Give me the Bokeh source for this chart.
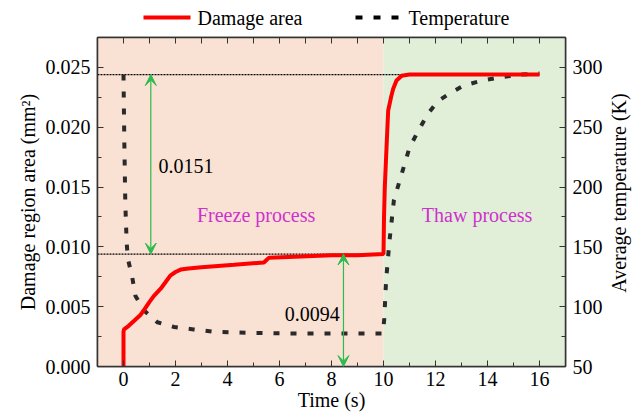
from bokeh.plotting import figure
from bokeh.layouts import column, row
from bokeh.models import (Range1d, LinearAxis, FixedTicker, NumeralTickFormatter, BoxAnnotation,
                          Arrow, VeeHead)
from bokeh.core.properties import value
from bokeh.embed import file_html
from bokeh.resources import INLINE
import math

# ---- data ----
time_damage = [0, 0, 0.02, 0.2, 0.4, 0.65, 0.78, 1.0, 1.17, 1.43, 1.6, 1.8, 2.0, 2.2, 2.5, 3.0, 4.26,
               5.4, 5.5, 5.6, 6.83, 8.0, 9.0, 10.0, 10.02, 10.05, 10.12, 10.18, 10.3, 10.37, 10.5,
               10.7, 11.0, 12.0, 13.0, 14.0, 15.0, 16.0]
damage_area = [0, 0.0029, 0.0031, 0.0034, 0.0038, 0.0043, 0.0047, 0.0054, 0.0059, 0.0065, 0.0070,
               0.0076, 0.0079, 0.0081, 0.0082, 0.0083, 0.0085, 0.0087, 0.0089, 0.0091, 0.0092,
               0.0093, 0.0093, 0.0094, 0.0125, 0.0150, 0.0185, 0.0214, 0.0226, 0.0232, 0.0239,
               0.0243, 0.0244, 0.0244, 0.0244, 0.0244, 0.0244, 0.0244]

time_temp = [0, 0.03, 0.07, 0.12, 0.17, 0.34, 0.46, 0.78, 1.3, 1.95, 2.7, 3.5, 5.0, 7.0, 9.0, 9.98,
             10.03, 10.1, 10.23, 10.4, 10.7, 11.0, 11.34, 11.7, 12.1, 12.6, 13.1, 13.8, 14.56, 15.3, 16.0]
temperature = [294, 240, 186, 154, 140, 124, 109, 97, 87, 83, 81, 79, 78, 77.5, 77.5, 77.5,
               90, 122, 155, 189, 211, 233, 247, 261, 272, 279, 285, 289, 292, 294, 295]

series_names = ["Damage area", "Temperature"]
right_title = ["Average temperature (K)"]

x_ticks = [0, 2, 4, 6, 8, 10, 12, 14, 16]
x_minor = [-1, 1, 3, 5, 7, 9, 11, 13, 15, 17]
top_ticks = list(range(0, 17))
y_ticks = [0.0, 0.005, 0.010, 0.015, 0.020, 0.025]
y_minor = [0.0025, 0.0075, 0.0125, 0.0175, 0.0225, 0.0275]
t_ticks = [50, 100, 150, 200, 250, 300]
t_minor = [75, 125, 175, 225, 275, 325]

freeze_span = [-1, 10]
thaw_span = [10, 17]
level_final = 0.0244
level_freeze = 0.0094
arrow1_x = 1.05
arrow2_x = 8.46
labels_text = ["0.0151", "0.0094"]
labels_x = [1.35, 6.2]
labels_y = [0.0168, 0.0044]
process_text = ["Freeze process", "Thaw process"]
process_x = [5.1, 13.6]
process_y = [0.0127, 0.0127]

FONT = "Liberation Serif"
FS = "20px"
RED = "#ff0000"
TEMP_COLOR = "#2a2a2a"
TEMP_DASH = "6 11"

# ---------------- legend strip (top) ----------------
lg = figure(width=637, height=30, output_backend="svg", toolbar_location=None,
            x_range=Range1d(0, 637), y_range=Range1d(0, 30), min_border=0)
lg.axis.visible = False
lg.grid.visible = False
lg.outline_line_color = None
lg.line([143, 190], [13, 13], line_color=RED, line_width=4)
lg.line([355, 400], [13, 13], line_color="black", line_width=4, line_dash="7 11")
lg.text(x=[197, 408], y=[13, 13], text=series_names, text_font=value(FONT), text_font_size=FS,
        text_color="black", text_baseline="middle", text_align="left")

# ---------------- main plot ----------------
p = figure(width=605, height=387, output_backend="svg", toolbar_location=None,
           x_range=Range1d(-1, 17), y_range=Range1d(0, 0.0275),
           min_border_left=97, min_border_right=40, min_border_top=7, min_border_bottom=51)
p.extra_y_ranges = {"temp": Range1d(50, 325)}
p.xgrid.visible = False
p.ygrid.visible = False
p.outline_line_color = "#333333"
p.outline_line_width = 1.5

p.add_layout(BoxAnnotation(left=freeze_span[0], right=freeze_span[1], fill_color="#f9e1d3",
                           fill_alpha=1, line_alpha=0, level="underlay"))
p.add_layout(BoxAnnotation(left=thaw_span[0], right=thaw_span[1], fill_color="#e1eed8",
                           fill_alpha=1, line_alpha=0, level="underlay"))

# dotted reference lines
p.line([freeze_span[0], 10.7], [level_final, level_final], line_color="black", line_width=1.2,
       line_dash="2 1")
p.line([freeze_span[0], 10.0], [level_freeze, level_freeze], line_color="black", line_width=1.2,
       line_dash="2 1")

p.line(time_temp, temperature, y_range_name="temp", line_color=TEMP_COLOR, line_width=4,
       line_dash=TEMP_DASH)
p.line(time_damage, damage_area, line_color=RED, line_width=4)

green = "#2dbb4e"
for xa_, y0, y1 in [(arrow1_x, level_freeze, level_final), (arrow2_x, 0.0, level_freeze)]:
    p.add_layout(Arrow(x_start=xa_, y_start=y0, x_end=xa_, y_end=y1, line_color=green, line_width=1.2,
                       start=VeeHead(size=11, fill_color=green, line_color=green),
                       end=VeeHead(size=11, fill_color=green, line_color=green)))

p.text(x=labels_x, y=labels_y, text=labels_text, text_font=value(FONT), text_font_size=FS,
       text_color="black", text_baseline="middle", text_align="left")
p.text(x=process_x, y=process_y, text=process_text, text_font=value(FONT), text_font_size=FS,
       text_color="#cc33cc", text_baseline="middle", text_align="center")

def style(ax):
    ax.axis_line_color = "#333333"
    ax.axis_line_width = 1.5
    ax.major_tick_in = 6
    ax.major_tick_out = 0
    ax.minor_tick_in = 4
    ax.minor_tick_out = 0
    ax.major_tick_line_color = "#333333"
    ax.minor_tick_line_color = "#333333"
    ax.major_label_text_font = FONT
    ax.major_label_text_font_size = FS
    ax.major_label_text_color = "black"
    ax.axis_label_text_font = FONT
    ax.axis_label_text_font_size = FS
    ax.axis_label_text_font_style = "normal"
    ax.axis_label_text_color = "black"

xa = p.xaxis[0]
style(xa)
xa.ticker = FixedTicker(ticks=x_ticks, minor_ticks=x_minor)
xa.axis_label = "Time (s)"
xa.major_label_standoff = 5
xa.axis_label_standoff = 0

ya = p.yaxis[0]
style(ya)
ya.ticker = FixedTicker(ticks=y_ticks, minor_ticks=y_minor)
ya.formatter = NumeralTickFormatter(format="0.000")
ya.axis_label = "Damage region area (mm²)"
ya.major_label_standoff = 7
ya.axis_label_standoff = 4

ra = LinearAxis(y_range_name="temp")
style(ra)
ra.ticker = FixedTicker(ticks=t_ticks, minor_ticks=t_minor)
ra.major_label_standoff = 7
p.add_layout(ra, "right")

ta = LinearAxis()
style(ta)
ta.ticker = FixedTicker(ticks=top_ticks, minor_ticks=[])
ta.major_label_text_font_size = "2px"
ta.major_label_overrides = {t: " " for t in top_ticks}
ta.major_label_standoff = 0
p.add_layout(ta, "above")

# ---------------- right axis title strip ----------------
rf = figure(width=32, height=387, output_backend="svg", toolbar_location=None,
            x_range=Range1d(0, 32), y_range=Range1d(0, 387), min_border=0)
rf.axis.visible = False
rf.grid.visible = False
rf.outline_line_color = None
rf.text(x=[13], y=[204], text=right_title, angle=math.pi / 2, text_font=value(FONT),
        text_font_size=FS, text_color="black", text_baseline="middle", text_align="center")

layout = column(lg, row(p, rf, spacing=0), spacing=0)
open("out.html", "w").write(file_html(layout, INLINE))
